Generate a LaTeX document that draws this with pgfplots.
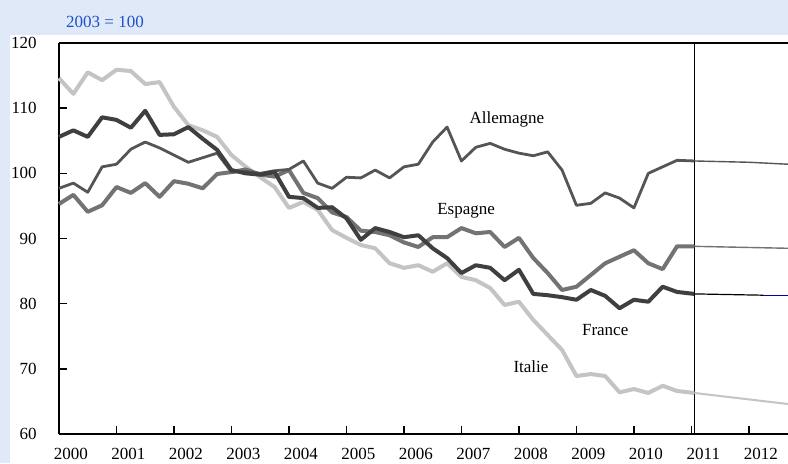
\documentclass[border=0pt]{standalone}
\usepackage{pgfplots}
\pgfplotsset{compat=1.18}
\usepackage{fontspec}
\setmainfont{Liberation Serif}
\definecolor{bgblue}{HTML}{DFE9F7}
\definecolor{txtblue}{HTML}{2050CC}
\definecolor{cIta}{HTML}{C4C4C4}
\definecolor{cFra}{HTML}{3F3F3F}
\definecolor{cAll}{HTML}{555555}
\definecolor{cEsp}{HTML}{737373}
\begin{document}
\begin{tikzpicture}[x=1pt,y=1pt]
\useasboundingbox (0,0) rectangle (394,231.5);
\fill[bgblue] (0,0) rectangle (394,231.5);
\fill[white] (5,0) rectangle (394,214);
\node[font=\fontsize{8.5}{10}\selectfont, text=txtblue] at (52.5,220.5) {2003 = 100};
\begin{axis}[
  at={(29.5pt,14.5pt)}, anchor=south west,
  scale only axis, width=364.5pt, height=195.5pt,
  xmin=2000, xmax=2012.68, ymin=60, ymax=120,
  axis x line=bottom, axis y line=left,
  axis line style={line width=1.2pt, -},
  xtick={2000,2001,...,2012}, ytick={60,70,...,120},
  tick align=inside, major tick length=4pt,
  tick style={line width=0.8pt, black},
  xticklabel style={xshift=6pt, yshift=-3.6pt},
  yticklabel style={xshift=-7.7pt},
  xticklabel={\pgfmathprintnumber[1000 sep={},fixed,precision=0]{\tick}},
  tick label style={font=\fontsize{8.5}{10}\selectfont},
  /pgf/number format/assume math mode=true,
  clip=false,
  line join=round,
]
% top border and forecast separator
\draw[line width=1.2pt] (rel axis cs:0,1) -- (rel axis cs:1,1);
\draw[line width=0.7pt] (axis cs:2011.05,60) -- (axis cs:2011.05,120);
% Italie
\addplot[cIta, line width=2pt] coordinates {
(2000.00,114.6)(2000.25,112.2)(2000.50,115.5)(2000.75,114.3)
(2001.00,115.9)(2001.25,115.7)(2001.50,113.7)(2001.75,114.0)
(2002.00,110.2)(2002.25,107.4)(2002.50,106.6)(2002.75,105.6)
(2003.00,102.8)(2003.25,101.0)(2003.50,99.4)(2003.75,97.9)
(2004.00,94.7)(2004.25,95.6)(2004.50,94.4)(2004.75,91.3)
(2005.00,90.1)(2005.25,89.0)(2005.50,88.5)(2005.75,86.2)
(2006.00,85.5)(2006.25,85.9)(2006.50,84.9)(2006.75,86.2)
(2007.00,84.1)(2007.25,83.6)(2007.50,82.4)(2007.75,79.8)
(2008.00,80.3)(2008.25,77.5)(2008.50,75.2)(2008.75,72.9)
(2009.00,68.9)(2009.25,69.2)(2009.50,68.9)(2009.75,66.4)
(2010.00,66.9)(2010.25,66.3)(2010.50,67.4)(2010.75,66.6)
(2011.05,66.3)};
\addplot[cIta, line width=1pt] coordinates {(2011.05,66.3)(2012.68,64.6)};
% Espagne
\addplot[cEsp, line width=2pt] coordinates {
(2000.00,95.3)(2000.25,96.7)(2000.50,94.1)(2000.75,95.1)
(2001.00,97.9)(2001.25,97.0)(2001.50,98.5)(2001.75,96.4)
(2002.00,98.8)(2002.25,98.4)(2002.50,97.7)(2002.75,99.9)
(2003.00,100.2)(2003.25,100.6)(2003.50,99.8)(2003.75,99.5)
(2004.00,100.5)(2004.25,97.0)(2004.50,96.2)(2004.75,94.0)
(2005.00,93.3)(2005.25,91.2)(2005.50,91.0)(2005.75,90.5)
(2006.00,89.4)(2006.25,88.7)(2006.50,90.2)(2006.75,90.2)
(2007.00,91.6)(2007.25,90.8)(2007.50,91.0)(2007.75,88.7)
(2008.00,90.1)(2008.25,87.0)(2008.50,84.7)(2008.75,82.1)
(2009.00,82.6)(2009.25,84.4)(2009.50,86.2)(2009.75,87.2)
(2010.00,88.2)(2010.25,86.2)(2010.50,85.3)(2010.75,88.8)
(2011.05,88.8)};
\addplot[cEsp, line width=0.7pt] coordinates {(2011.05,88.8)(2012.68,88.5)};
% Allemagne
\addplot[cAll, line width=1.4pt] coordinates {
(2000.00,97.7)(2000.25,98.5)(2000.50,97.1)(2000.75,101.0)
(2001.00,101.4)(2001.25,103.7)(2001.50,104.8)(2001.75,103.9)
(2002.00,102.8)(2002.25,101.7)(2002.50,102.4)(2002.75,103.1)
(2003.00,100.2)(2003.25,100.3)(2003.50,100.0)(2003.75,100.4)
(2004.00,100.6)(2004.25,101.9)(2004.50,98.5)(2004.75,97.7)
(2005.00,99.4)(2005.25,99.3)(2005.50,100.5)(2005.75,99.3)
(2006.00,101.0)(2006.25,101.4)(2006.50,104.8)(2006.75,107.1)
(2007.00,101.9)(2007.25,104.0)(2007.50,104.6)(2007.75,103.7)
(2008.00,103.1)(2008.25,102.7)(2008.50,103.3)(2008.75,100.5)
(2009.00,95.1)(2009.25,95.4)(2009.50,97.0)(2009.75,96.2)
(2010.00,94.7)(2010.25,100.0)(2010.50,101.0)(2010.75,102.0)
(2011.05,101.9)};
\addplot[cAll, line width=0.7pt] coordinates {(2011.05,101.9)(2012.00,101.7)(2012.68,101.4)};
% France
\addplot[cFra, line width=2pt] coordinates {
(2000.00,105.6)(2000.25,106.6)(2000.50,105.6)(2000.75,108.6)
(2001.00,108.2)(2001.25,107.0)(2001.50,109.6)(2001.75,105.9)
(2002.00,106.0)(2002.25,107.1)(2002.50,105.3)(2002.75,103.6)
(2003.00,100.5)(2003.25,100.0)(2003.50,99.8)(2003.75,100.2)
(2004.00,96.4)(2004.25,96.2)(2004.50,94.7)(2004.75,94.8)
(2005.00,93.1)(2005.25,89.8)(2005.50,91.6)(2005.75,91.0)
(2006.00,90.2)(2006.25,90.5)(2006.50,88.5)(2006.75,87.0)
(2007.00,84.7)(2007.25,85.9)(2007.50,85.5)(2007.75,83.6)
(2008.00,85.2)(2008.25,81.5)(2008.50,81.3)(2008.75,81.0)
(2009.00,80.6)(2009.25,82.1)(2009.50,81.2)(2009.75,79.3)
(2010.00,80.6)(2010.25,80.3)(2010.50,82.6)(2010.75,81.8)
(2011.05,81.5)};
\addplot[black, line width=0.6pt] coordinates {(2011.05,81.5)(2012.25,81.3)};
\addplot[blue!70!black, line width=0.6pt] coordinates {(2012.25,81.3)(2012.68,81.3)};
% labels
\node[font=\fontsize{8.5}{10}\selectfont] at (axis cs:2007.79,108.3) {Allemagne};
\node[font=\fontsize{8.5}{10}\selectfont] at (axis cs:2007.08,94.2) {Espagne};
\node[font=\fontsize{8.5}{10}\selectfont] at (axis cs:2009.50,76.0) {France};
\node[font=\fontsize{8.5}{10}\selectfont] at (axis cs:2008.21,70.3) {Italie};
\end{axis}
\end{tikzpicture}
\end{document}
